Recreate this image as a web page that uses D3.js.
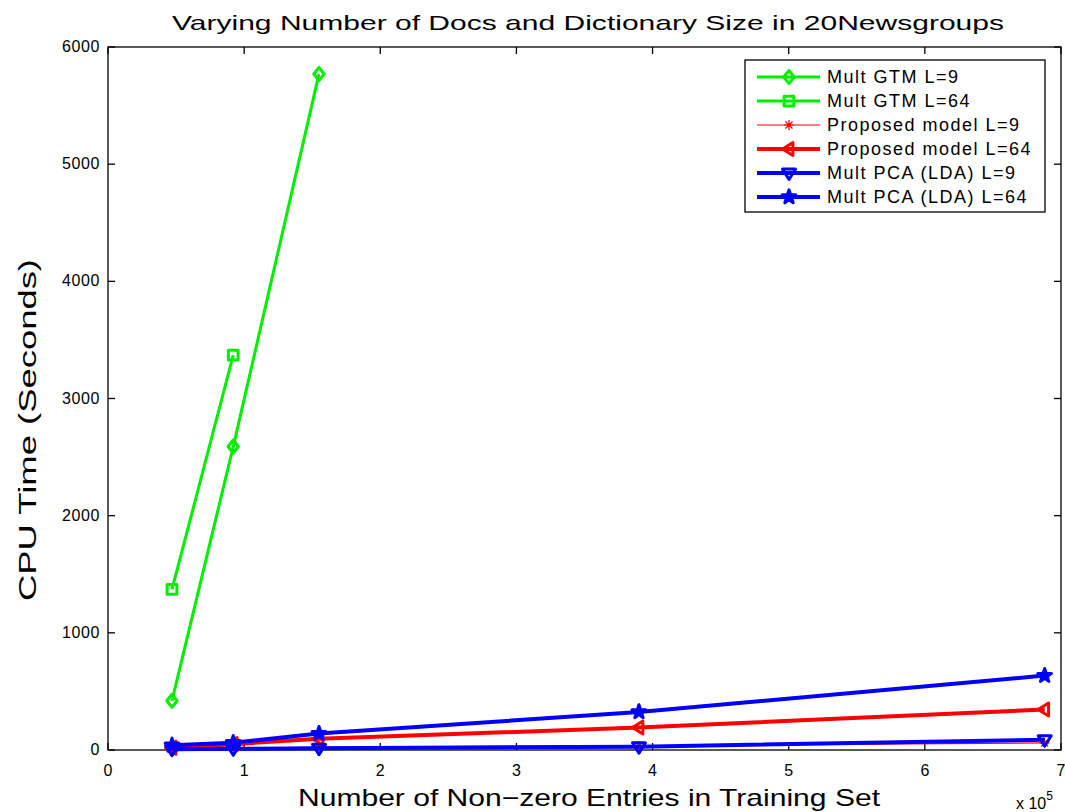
<!DOCTYPE html>
<html>
<head>
<meta charset="utf-8">
<script src="https://cdn.jsdelivr.net/npm/d3@7"></script>
<style>
  html, body { margin: 0; padding: 0; background: #fff; }
  svg { display: block; }
  text { font-family: "Liberation Sans", Arial, sans-serif; fill: #000; }
</style>
</head>
<body>
<svg id="chart" width="1065" height="812"></svg>
<script>
// Training-set size (non-zero entries, x 10^5)
const sizes = [0.47, 0.92, 1.55, 3.9, 6.88];

// CPU time in seconds for each model
const gtmL9 = [420, 2590, 5770];
const gtmL64 = [1370, 3370];
const propL9 = [6, 14, 24, 35, 60];
const propL64 = [20, 50, 95, 192, 345];
const pcaL9 = [6, 10, 15, 28, 88];
const pcaL64 = [40, 62, 140, 325, 635];

const seriesNames = [
  "Mult GTM L=9", "Mult GTM L=64",
  "Proposed model L=9", "Proposed model L=64",
  "Mult PCA (LDA) L=9", "Mult PCA (LDA) L=64"
];

const xTicks = [0, 1, 2, 3, 4, 5, 6, 7];
const yTicks = [0, 1000, 2000, 3000, 4000, 5000, 6000];

const titleText = "Varying Number of Docs and Dictionary Size in 20Newsgroups";
const xLabel = "Number of Non\u2212zero Entries in Training Set";
const yLabel = "CPU Time (Seconds)";

const GREEN = "#00ee00", RED = "#ff0000", BLUE = "#0000ff";

const series = [
  { name: seriesNames[0], values: gtmL9, color: GREEN, width: 3, marker: "diamond" },
  { name: seriesNames[1], values: gtmL64, color: GREEN, width: 3, marker: "square" },
  { name: seriesNames[2], values: propL9, color: RED, width: 1.2, marker: "asterisk" },
  { name: seriesNames[3], values: propL64, color: RED, width: 4, marker: "triLeft" },
  { name: seriesNames[4], values: pcaL9, color: BLUE, width: 4, marker: "triDown" },
  { name: seriesNames[5], values: pcaL64, color: BLUE, width: 4, marker: "star" }
];

const svg = d3.select("#chart");
const box = { left: 108, top: 47, right: 1061, bottom: 750 };

const x = d3.scaleLinear().domain([0, 7]).range([box.left, box.right]);
const y = d3.scaleLinear().domain([0, 6000]).range([box.bottom, box.top]);

// Axes frame with inward ticks on all four sides
const tickLen = 7;
const axG = svg.append("g").attr("stroke", "#000").attr("stroke-width", 1.3);
axG.append("rect")
  .attr("x", box.left).attr("y", box.top)
  .attr("width", box.right - box.left).attr("height", box.bottom - box.top)
  .attr("fill", "none");
xTicks.forEach(t => {
  axG.append("line").attr("x1", x(t)).attr("x2", x(t)).attr("y1", box.bottom).attr("y2", box.bottom - tickLen);
  axG.append("line").attr("x1", x(t)).attr("x2", x(t)).attr("y1", box.top).attr("y2", box.top + tickLen);
});
yTicks.forEach(t => {
  axG.append("line").attr("x1", box.left).attr("x2", box.left + tickLen).attr("y1", y(t)).attr("y2", y(t));
  axG.append("line").attr("x1", box.right).attr("x2", box.right - tickLen).attr("y1", y(t)).attr("y2", y(t));
});

// Tick labels
svg.append("g").selectAll("text").data(xTicks).join("text")
  .attr("x", d => x(d)).attr("y", box.bottom + 26)
  .attr("text-anchor", "middle").attr("font-size", 16)
  .text(d => d);
svg.append("g").selectAll("text").data(yTicks).join("text")
  .attr("x", box.left - 8).attr("y", d => y(d) + 5)
  .attr("text-anchor", "end").attr("font-size", 16).attr("letter-spacing", 0.6)
  .text(d => d);

// Exponent note under the x axis
const expo = svg.append("text").attr("x", 1016).attr("y", 809).attr("font-size", 16);
expo.append("tspan").text("x 10");
expo.append("tspan").attr("dy", -9).attr("font-size", 12).text("5");

// Title and axis labels
svg.append("text").attr("x", 588).attr("y", 30).attr("text-anchor", "middle")
  .attr("font-size", 21).attr("textLength", 832).attr("lengthAdjust", "spacingAndGlyphs")
  .text(titleText);
svg.append("text").attr("x", 589).attr("y", 806).attr("text-anchor", "middle")
  .attr("font-size", 24).attr("textLength", 582).attr("lengthAdjust", "spacingAndGlyphs")
  .text(xLabel);
svg.append("text").attr("transform", "translate(36,430) rotate(-90)").attr("text-anchor", "middle")
  .attr("font-size", 23).attr("textLength", 342).attr("lengthAdjust", "spacingAndGlyphs")
  .text(yLabel);

// Marker shapes, centred on (0,0)
function markerPath(kind, r) {
  const p = d3.path();
  if (kind === "diamond") {
    p.moveTo(0, -r); p.lineTo(r * 0.8, 0); p.lineTo(0, r); p.lineTo(-r * 0.8, 0); p.closePath();
  } else if (kind === "square") {
    const s = r * 0.75;
    p.rect(-s, -s, 2 * s, 2 * s);
  } else if (kind === "triLeft") {
    p.moveTo(-r, 0); p.lineTo(r * 0.6, -r); p.lineTo(r * 0.6, r); p.closePath();
  } else if (kind === "triDown") {
    p.moveTo(-r, -r * 0.6); p.lineTo(r, -r * 0.6); p.lineTo(0, r); p.closePath();
  } else if (kind === "asterisk") {
    for (let i = 0; i < 4; i++) {
      const a = i * Math.PI / 4;
      p.moveTo(-r * Math.cos(a), -r * Math.sin(a));
      p.lineTo(r * Math.cos(a), r * Math.sin(a));
    }
  } else if (kind === "star") {
    return d3.symbol(d3.symbolStar, r * r * 1.6)();
  }
  return p.toString();
}

function drawMarker(g, s, cx, cy, r) {
  g.append("path")
    .attr("d", markerPath(s.marker, r))
    .attr("transform", `translate(${cx},${cy})`)
    .attr("fill", s.marker === "star" ? s.color : "none")
    .attr("stroke", s.color)
    .attr("stroke-width", s.marker === "asterisk" ? 1.2 : 3)
    .attr("stroke-linejoin", "round");
}

const markerSize = s => s.marker === "asterisk" ? 5 : (s.marker === "star" ? 6 : 6.5);

// Data lines and markers
const line = d3.line().x(d => x(d[0])).y(d => y(d[1]));
const plotG = svg.append("g");
series.forEach(s => {
  const pts = s.values.map((v, i) => [sizes[i], v]);
  plotG.append("path").datum(pts)
    .attr("d", line).attr("fill", "none")
    .attr("stroke", s.color).attr("stroke-width", s.width)
    .attr("stroke-linejoin", "round");
  pts.forEach(p => drawMarker(plotG, s, x(p[0]), y(p[1]), markerSize(s)));
});

// Legend
const lg = svg.append("g");
lg.append("rect").attr("x", 745).attr("y", 60).attr("width", 300).attr("height", 152)
  .attr("fill", "#fff").attr("stroke", "#000").attr("stroke-width", 1.3);
series.forEach((s, i) => {
  const cy = 77 + i * 24;
  lg.append("line").attr("x1", 757).attr("x2", 820).attr("y1", cy).attr("y2", cy)
    .attr("stroke", s.color).attr("stroke-width", s.width);
  drawMarker(lg, s, 789, cy, markerSize(s));
  lg.append("text").attr("x", 827).attr("y", cy + 6)
    .attr("font-size", 18).attr("letter-spacing", 1.5)
    .text(s.name);
});
</script>
</body>
</html>
